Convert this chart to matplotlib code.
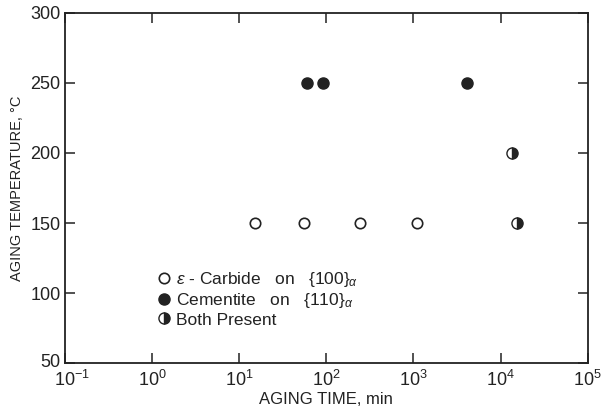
import numpy as np
import matplotlib
matplotlib.use("Agg")
import matplotlib.pyplot as plt
from matplotlib.lines import Line2D
from matplotlib.transforms import ScaledTranslation

plt.rcParams['font.family'] = ['Liberation Sans', 'DejaVu Sans']
plt.rcParams['mathtext.fontset'] = 'custom'
plt.rcParams['mathtext.rm'] = 'Liberation Sans'
plt.rcParams['mathtext.it'] = 'Liberation Sans:italic'

ink = '#222222'
narrow = ['Liberation Sans Narrow', 'Liberation Sans', 'DejaVu Sans']

# epsilon carbide (open), cementite (filled), both present (half)
carbide_t = [15, 56, 245, 1100]
carbide_T = [150, 150, 150, 150]
cement_t = [60, 92, 4100]
cement_T = [250, 250, 250]
both_t = [13500, 15500]
both_T = [200, 150]

f = plt.figure(figsize=(6.01, 4.15), dpi=100)
ax = f.add_axes([0.108, 0.125, 0.870, 0.844])

ax.plot(carbide_t, carbide_T, 'o', ms=7.5, mfc='white', mec=ink, mew=1.2, ls='none')
ax.plot(cement_t, cement_T, 'o', ms=8, mfc=ink, mec=ink, ls='none')
ax.plot(both_t, both_T, 'o', ms=8, fillstyle='right', mfc=ink, mfcalt='white', mec=ink, mew=1.0, ls='none')

ax.set_xscale('log')
ax.set_xlim(0.1, 1e5)
ax.set_ylim(50, 300)
ax.set_xticks([1e-1, 1e0, 1e1, 1e2, 1e3, 1e4, 1e5])
ax.set_yticks([50, 100, 150, 200, 250, 300])
ax.minorticks_off()
ax.tick_params(direction='in', length=7, width=1.1, top=True, right=True,
               labelsize=13, colors=ink)
ax.tick_params(axis='x', pad=5)
ax.tick_params(axis='y', pad=3)
for s in ax.spines.values():
    s.set_linewidth(1.3)
    s.set_color(ink)

ax.set_xlabel('AGING TIME, min', fontsize=12, color=ink, labelpad=1, family=narrow)
ax.set_ylabel('AGING TEMPERATURE, °C', fontsize=10.5, color=ink, labelpad=5, family=narrow)

# corner labels: nudge apart like the original lettering
lx = ax.xaxis.get_major_ticks()[0].label1
lx.set_transform(lx.get_transform() + ScaledTranslation(5/72, 0, f.dpi_scale_trans))
ly = ax.yaxis.get_major_ticks()[0].label1
ly.set_transform(ly.get_transform() + ScaledTranslation(0, 2/72, f.dpi_scale_trans))

handles = [
    Line2D([], [], marker='o', ls='none', ms=7.5, mfc='white', mec=ink, mew=1.2),
    Line2D([], [], marker='o', ls='none', ms=8, mfc=ink, mec=ink),
    Line2D([], [], marker='o', ls='none', ms=8, fillstyle='right', mfc=ink, mfcalt='white', mec=ink),
]
labels = [r'$\epsilon$ - Carbide   on   $\{100\}_{\alpha}$',
          r'Cementite   on   $\{110\}_{\alpha}$',
          'Both Present']
leg = ax.legend(handles, labels, loc='upper left', bbox_to_anchor=(0.163, 0.29),
                frameon=False, fontsize=12.5, handlelength=0.6, handletextpad=0.4,
                labelspacing=0.12, borderpad=0)
for t in leg.get_texts():
    t.set_color(ink)

f.savefig('out.png', dpi=100)
